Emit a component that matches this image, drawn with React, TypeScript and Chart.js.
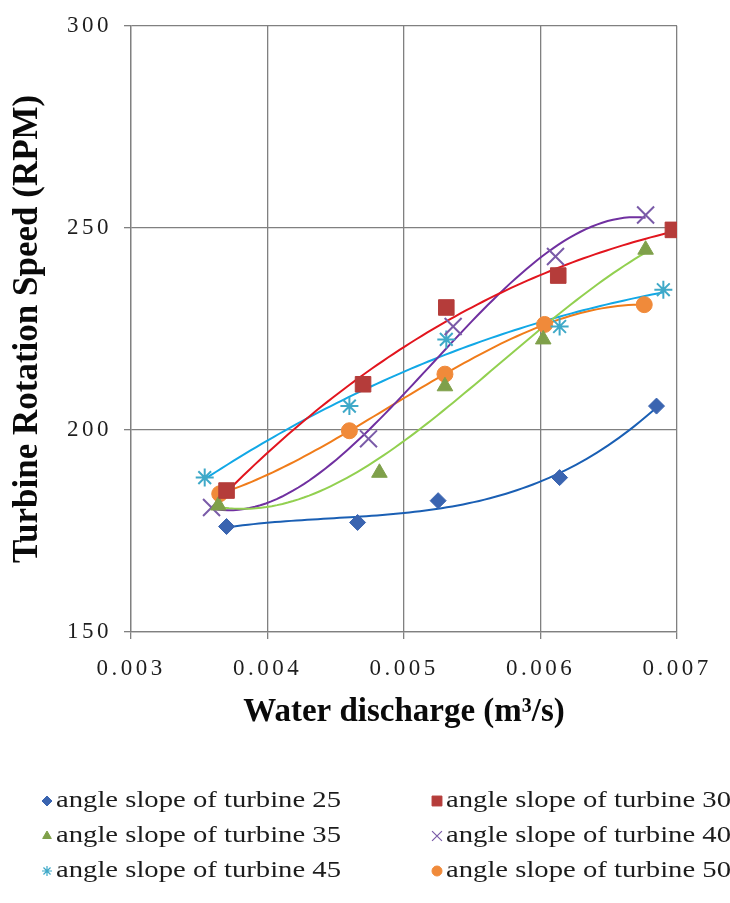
import React, { useEffect, useRef } from "react";
import { Chart, registerables } from "chart.js";
import { drawPoint } from "chart.js/helpers";

Chart.register(...registerables);

// ---- data ----
const seriesNames = [
  "angle slope of turbine 25",
  "angle slope of turbine 30",
  "angle slope of turbine 35",
  "angle slope of turbine 40",
  "angle slope of turbine 45",
  "angle slope of turbine 50",
];
const q25 = [0.0037, 0.00466, 0.00525, 0.00614, 0.00685];
const r25 = [176.1, 177.1, 182.5, 188.2, 205.9];
const q30 = [0.0037, 0.0047, 0.00531, 0.00613, 0.00697];
const r30 = [185.0, 211.3, 230.3, 238.2, 249.5];
const q35 = [0.00364, 0.00482, 0.0053, 0.00602, 0.00677];
const r35 = [181.3, 189.4, 210.8, 222.4, 244.6];
const q40 = [0.00359, 0.00474, 0.00536, 0.00611, 0.00677];
const r40 = [180.8, 197.8, 225.6, 242.9, 253.2];
const q45 = [0.00354, 0.0046, 0.00531, 0.00614, 0.0069];
const r45 = [188.2, 205.9, 222.4, 225.6, 234.7];
const q50 = [0.00365, 0.0046, 0.0053, 0.00603, 0.00676];
const r50 = [184.2, 199.8, 213.8, 226.1, 231.0];

const xTicks = [0.003, 0.004, 0.005, 0.006, 0.007];
const yTicks = [150, 200, 250, 300];

const xs = [q25, q30, q35, q40, q45, q50];
const ys = [r25, r30, r35, r40, r45, r50];

// styles
const lineColors = ["#1A5FB4", "#E2151E", "#92D050", "#7030A0", "#12A8E6", "#F07C1A"];
const pointColors = ["#3A64B0", "#B53C3A", "#7FA04A", "#7A5BA8", "#3FA9C8", "#F08A3A"];
const pointStyles = ["rectRot", "rect", "triangle", "crossRot", "star", "circle"];
const pointRadii = [8, 11, 9, 12, 9, 8];

const SERIF = "'Liberation Serif', 'Times New Roman', serif";

// cubic least-squares trendline (Excel-style polynomial trendline)
function cubicTrend(xv: number[], yv: number[], samples: number) {
  const c = 0.005, s = 1000;
  const n = 4;
  const A: number[][] = Array.from({ length: n }, () => new Array(n + 1).fill(0));
  for (let k = 0; k < xv.length; k++) {
    const t = (xv[k] - c) * s;
    const pw = [1, t, t * t, t * t * t];
    for (let i = 0; i < n; i++) {
      for (let j = 0; j < n; j++) A[i][j] += pw[i] * pw[j];
      A[i][n] += pw[i] * yv[k];
    }
  }
  for (let i = 0; i < n; i++) {
    let p = i;
    for (let r = i + 1; r < n; r++) if (Math.abs(A[r][i]) > Math.abs(A[p][i])) p = r;
    [A[i], A[p]] = [A[p], A[i]];
    for (let r = 0; r < n; r++) {
      if (r === i) continue;
      const f = A[r][i] / A[i][i];
      for (let j = i; j <= n; j++) A[r][j] -= f * A[i][j];
    }
  }
  const coef = A.map((row, i) => row[n] / row[i]);
  const x0 = Math.min(...xv), x1 = Math.max(...xv);
  const out: { x: number; y: number }[] = [];
  for (let k = 0; k <= samples; k++) {
    const x = x0 + ((x1 - x0) * k) / samples;
    const t = (x - c) * s;
    out.push({ x, y: coef[0] + coef[1] * t + coef[2] * t * t + coef[3] * t * t * t });
  }
  return out;
}

export default function App() {
  const ref = useRef<HTMLCanvasElement>(null);
  useEffect(() => {
    document.body.style.margin = "0";
    const canvas = ref.current!;
    const markerSets = seriesNames.map((name, i) => ({
      label: name,
      data: xs[i].map((x, k) => ({ x, y: ys[i][k] })),
      showLine: false,
      pointStyle: pointStyles[i],
      pointRadius: pointRadii[i],
      pointBackgroundColor: pointColors[i],
      pointBorderColor: pointColors[i],
      pointBorderWidth: pointStyles[i] === "crossRot" || pointStyles[i] === "star" ? 2 : 1,
      order: 0,
    }));
    const lineSets = seriesNames.map((name, i) => ({
      label: name + " (trend)",
      data: cubicTrend(xs[i], ys[i], 80),
      showLine: true,
      tension: 0,
      borderColor: lineColors[i],
      borderWidth: 2,
      pointRadius: 0,
      order: 1,
    }));

    const spacingPlugin = {
      id: "spacing",
      beforeDraw(chart: any) {
        (chart.ctx as any).letterSpacing = "0px";
      },
      afterDatasetsDraw(chart: any) {
        (chart.ctx as any).letterSpacing = "3.5px";
      },
    };

    const legendPlugin = {
      id: "customLegend",
      afterDraw(chart: any) {
        const ctx = chart.ctx as CanvasRenderingContext2D;
        (ctx as any).letterSpacing = "0px";
        const colsX = [47, 437];
        const rowsY = [801, 836, 871];
        ctx.save();
        ctx.font = `23px ${SERIF}`;
        ctx.textBaseline = "middle";
        seriesNames.forEach((name, i) => {
          const cx = colsX[i % 2];
          const cy = rowsY[Math.floor(i / 2)];
          ctx.save();
          ctx.fillStyle = pointColors[i];
          ctx.strokeStyle = pointColors[i];
          ctx.lineWidth = pointStyles[i] === "crossRot" || pointStyles[i] === "star" ? 1.2 : 1;
          const r = pointStyles[i] === "rect" ? 7 : pointStyles[i] === "crossRot" ? 7 : 5;
          drawPoint(ctx, { pointStyle: pointStyles[i], radius: r, rotation: 0, borderWidth: 1 } as any, cx, cy);
          ctx.restore();
          const tx = cx + 9;
          const w = ctx.measureText(name).width;
          const target = 285;
          ctx.save();
          ctx.translate(tx, cy);
          ctx.scale(target / w, 1);
          ctx.fillStyle = "#1c1c1c";
          ctx.fillText(name, 0, 0);
          ctx.restore();
        });
        ctx.restore();
      },
    };

    const chart = new Chart(canvas, {
      type: "scatter",
      data: { datasets: [...markerSets, ...lineSets] as any },
      plugins: [spacingPlugin, legendPlugin],
      options: {
        animation: false,
        responsive: false,
        maintainAspectRatio: false,
        layout: { padding: { top: 7, right: 53, bottom: 151, left: 0 } },
        plugins: { legend: { display: false }, tooltip: { enabled: false } },
        scales: {
          x: {
            type: "linear",
            min: 0.003,
            max: 0.007,
            afterBuildTicks: (s: any) => {
              s.ticks = xTicks.map((v) => ({ value: v }));
            },
            afterFit: (s: any) => {
              s.height = 120;
            },
            ticks: {
              z: 1,
              color: "#1e1e1e",
              font: { family: SERIF, size: 23 },
              padding: 16,
              maxRotation: 0,
              callback: (v: any) => Number(v).toFixed(3),
            },
            grid: { color: "#808080", lineWidth: 1.3, tickLength: 7, drawTicks: true },
            border: { color: "#808080", width: 1.3 },
            title: {
              display: true,
              text: "Water discharge (m³/s)",
              color: "#0a0a0a",
              font: { family: SERIF, size: 33, weight: "bold" },
              padding: { top: 4, bottom: 20 },
            },
          },
          y: {
            type: "linear",
            min: 150,
            max: 300,
            afterBuildTicks: (s: any) => {
              s.ticks = yTicks.map((v) => ({ value: v }));
            },
            afterFit: (s: any) => {
              s.width = 131;
            },
            ticks: {
              z: 1,
              color: "#1e1e1e",
              font: { family: SERIF, size: 23 },
              padding: 12,
            },
            grid: { color: "#808080", lineWidth: 1.3, tickLength: 7 },
            border: { color: "#808080", width: 1.3 },
            title: {
              display: true,
              text: "Turbine Rotation Speed (RPM)",
              color: "#0a0a0a",
              font: { family: SERIF, size: 35, weight: "bold" },
              padding: { top: 7, bottom: 0 },
            },
          },
        },
      },
    });
    return () => chart.destroy();
  }, []);
  return (
    <div style={{ width: 730, height: 903, background: "#fff" }}>
      <canvas ref={ref} width={730} height={903} style={{ width: 730, height: 903, display: "block" }} />
    </div>
  );
}
